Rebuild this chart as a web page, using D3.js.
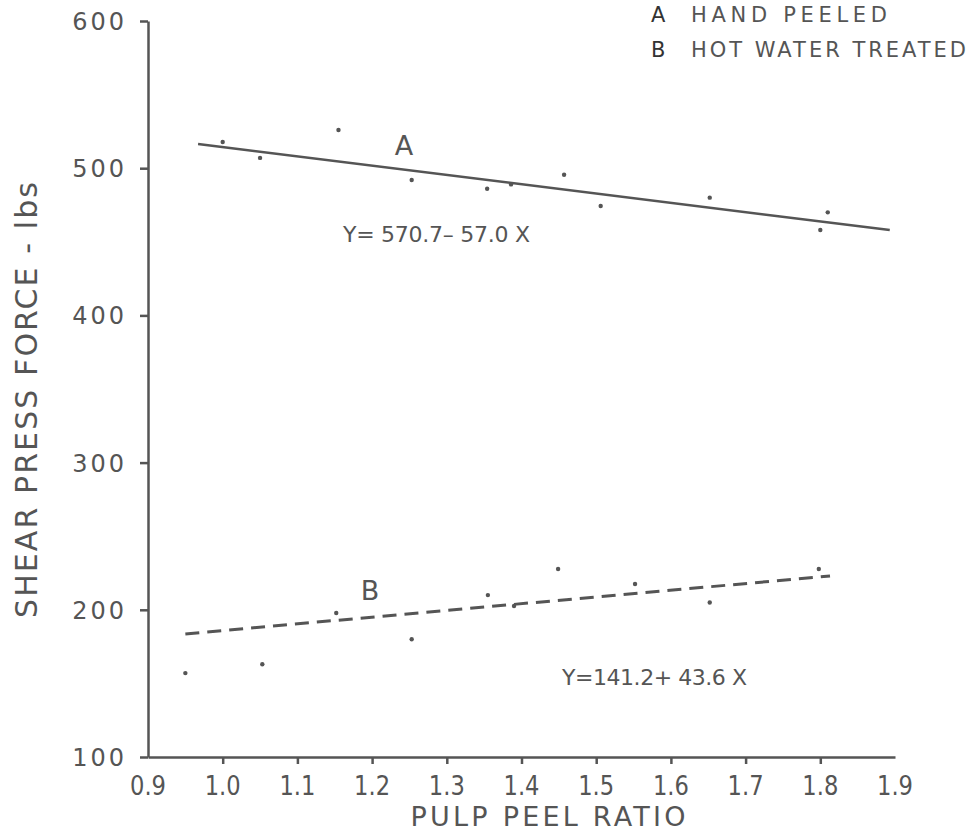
<!DOCTYPE html>
<html>
<head>
<meta charset="utf-8">
<script src="https://cdn.jsdelivr.net/npm/d3@7"></script>
<style>
  body { margin: 0; background: #fff; }
  svg text { font-family: "DejaVu Sans", sans-serif; fill: #555; }
</style>
</head>
<body>
<div id="chart"></div>
<script>
// tick values
const xTicks = [0.9, 1.0, 1.1, 1.2, 1.3, 1.4, 1.5, 1.6, 1.7, 1.8, 1.9];
const yTicks = [100, 200, 300, 400, 500, 600];

// A - hand peeled
const handRatio = [1.0, 1.05, 1.155, 1.253, 1.354, 1.386, 1.457, 1.506, 1.652, 1.81, 1.80];
const handForce = [517.8, 507, 526, 492, 486, 489, 495.5, 474.3, 480, 470, 458];

// B - hot water treated
const hotRatio = [0.95, 1.053, 1.152, 1.253, 1.355, 1.39, 1.449, 1.552, 1.652, 1.798];
const hotForce = [157, 163, 197.8, 180, 210, 202.6, 227.7, 217.5, 205, 227.7];

// fitted lines, end points as drawn
const fitAX = [0.967, 1.893];
const fitAY = [516.4, 458];
const fitBX = [0.95, 1.813];
const fitBY = [183.6, 223];

const legendKeys = ["A", "B"];
const legendNames = ["HAND   PEELED", "HOT  WATER  TREATED"];
const eqA = "Y= 570.7\u2013 57.0 X";
const eqB = "Y=141.2+ 43.6 X";

const width = 970, height = 832;
const ink = "#555";

const svg = d3.select("#chart")
    .append("svg")
    .attr("width", width)
    .attr("height", height);

const x = d3.scaleLinear().domain([0.9, 1.9]).range([148, 895]);
const y = d3.scaleLinear().domain([100, 600]).range([757, 21]);

// y axis
const yAxis = d3.axisLeft(y).tickValues(yTicks).tickSize(8).tickSizeOuter(0).tickFormat("");
svg.append("g")
    .attr("transform", `translate(${x(0.9)},0)`)
    .call(yAxis)
    .call(g => g.select(".domain").attr("stroke", ink).attr("stroke-width", 2.5))
    .call(g => g.selectAll(".tick line").attr("stroke", ink).attr("stroke-width", 2.5));

svg.append("g").selectAll("text")
    .data(yTicks)
    .join("text")
    .attr("x", 127)
    .attr("y", d => y(d) + 9)
    .attr("text-anchor", "end")
    .attr("font-size", 24)
    .attr("letter-spacing", 3)
    .text(d => d);

// x axis
const xAxis = d3.axisBottom(x).tickValues(xTicks.slice(1, -1)).tickSize(7).tickSizeOuter(0).tickFormat("");
svg.append("g")
    .attr("transform", `translate(0,${y(100)})`)
    .call(xAxis)
    .call(g => g.select(".domain").attr("stroke", ink).attr("stroke-width", 2.5))
    .call(g => g.selectAll(".tick line").attr("stroke", ink).attr("stroke-width", 2.5));

svg.append("g").selectAll("text")
    .data(xTicks)
    .join("text")
    .attr("x", d => x(d))
    .attr("y", 795)
    .attr("text-anchor", "middle")
    .attr("font-size", 26)
    .attr("textLength", 36)
    .attr("lengthAdjust", "spacingAndGlyphs")
    .text(d => d.toFixed(1));

// axis titles
svg.append("text")
    .attr("transform", "translate(37,400) rotate(-90)")
    .attr("text-anchor", "middle")
    .attr("font-size", 30)
    .attr("textLength", 436)
    .attr("lengthAdjust", "spacing")
    .text("SHEAR PRESS FORCE - lbs");

svg.append("text")
    .attr("x", 548)
    .attr("y", 826)
    .attr("text-anchor", "middle")
    .attr("font-size", 27)
    .attr("textLength", 275)
    .attr("lengthAdjust", "spacing")
    .text("PULP PEEL RATIO");

// fitted lines
const line = d3.line().x(d => x(d[0])).y(d => y(d[1]));
svg.append("path")
    .attr("d", line(d3.zip(fitAX, fitAY)))
    .attr("stroke", ink)
    .attr("stroke-width", 2.5)
    .attr("fill", "none");
svg.append("path")
    .attr("d", line(d3.zip(fitBX, fitBY)))
    .attr("stroke", ink)
    .attr("stroke-width", 3)
    .attr("stroke-dasharray", "14,8")
    .attr("fill", "none");

// points
svg.append("g").selectAll("circle")
    .data(d3.zip(handRatio, handForce).concat(d3.zip(hotRatio, hotForce)))
    .join("circle")
    .attr("cx", d => x(d[0]))
    .attr("cy", d => y(d[1]))
    .attr("r", 2.2)
    .attr("fill", ink);

// series labels and equations
svg.append("text").attr("x", 404).attr("y", 155).attr("text-anchor", "middle")
    .attr("font-size", 27).text("A");
svg.append("text").attr("x", 370).attr("y", 600).attr("text-anchor", "middle")
    .attr("font-size", 27).text("B");
svg.append("text").attr("x", 343).attr("y", 242).attr("font-size", 22)
    .attr("textLength", 187).attr("lengthAdjust", "spacing").text(eqA);
svg.append("text").attr("x", 562).attr("y", 685).attr("font-size", 22)
    .attr("textLength", 185).attr("lengthAdjust", "spacing").text(eqB);

// legend
const legend = svg.append("g").selectAll("g")
    .data(legendKeys)
    .join("g")
    .attr("transform", (d, i) => `translate(651,${22 + i * 35})`);
legend.append("text")
    .attr("font-size", 21)
    .style("fill", "#333")
    .text(d => d);
legend.append("text")
    .attr("x", 40)
    .attr("font-size", 21)
    .attr("textLength", (d, i) => i === 0 ? 196 : 275)
    .attr("lengthAdjust", "spacing")
    .text((d, i) => legendNames[i]);
</script>
</body>
</html>
